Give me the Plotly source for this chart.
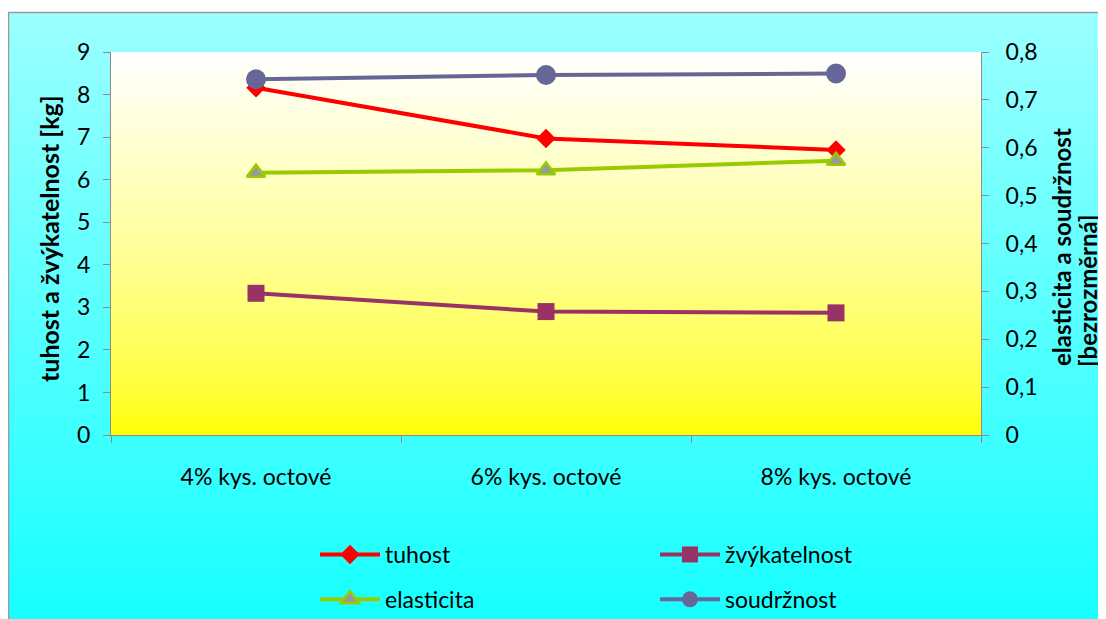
import base64, struct, zlib
import plotly.graph_objects as go

categories = ["4% kys. octové", "6% kys. octové", "8% kys. octové"]
tuhost = [8.16, 6.97, 6.70]
zvykatelnost = [3.33, 2.90, 2.87]
elasticita = [0.548, 0.553, 0.573]
soudrznost = [0.743, 0.752, 0.755]

OFF = 8  # page body margin
W, H = 1098, 611
L, T = 111 - OFF, 52 - OFF
PW, PH = 870, 383
R, B = W - L - PW, H - T - PH


def px2x(px):  # page pixel -> paper
    return (px - OFF - L) / PW


def px2y(py):
    return (T + PH - (py - OFF)) / PH


def png_uri(rows):
    raw = b"".join(b"\x00" + bytes(c) + bytes(c) for c in rows)

    def chunk(tag, data):
        return struct.pack(">I", len(data)) + tag + data + struct.pack(">I", zlib.crc32(tag + data) & 0xffffffff)

    png = b"\x89PNG\r\n\x1a\n" + chunk(b"IHDR", struct.pack(">IIBBBBB", 2, len(rows), 8, 2, 0, 0, 0)) \
        + chunk(b"IDAT", zlib.compress(raw)) + chunk(b"IEND", b"")
    return "data:image/png;base64," + base64.b64encode(png).decode()


n = 200
outer = [(int(round(155 - 135 * i / (n - 1))), 255, 255) for i in range(n)]
inner = [(255, 255, int(round(255 * (1 - i / (n - 1)) ** 0.7))) for i in range(n)]

fig = go.Figure()
fig.add_trace(go.Scatter(x=categories, y=tuhost, name="tuhost", mode="lines+markers",
                         line=dict(color="#FF0000", width=4),
                         marker=dict(symbol="diamond", size=15, color="#FF0000"),
                         legend="legend", legendgroup="a"))
fig.add_trace(go.Scatter(x=categories, y=zvykatelnost, name="žvýkatelnost", mode="lines+markers",
                         line=dict(color="#993366", width=4),
                         marker=dict(symbol="square", size=17, color="#993366"),
                         legend="legend2", legendgroup="b"))
fig.add_trace(go.Scatter(x=categories, y=elasticita, name="elasticita", mode="lines+markers",
                         line=dict(color="#99CC00", width=4),
                         marker=dict(symbol="triangle-up", size=16, color="#999999",
                                     line=dict(color="#99CC00", width=2.5)),
                         yaxis="y2", legend="legend", legendgroup="c"))
fig.add_trace(go.Scatter(x=categories, y=soudrznost, name="soudržnost", mode="lines+markers",
                         line=dict(color="#666699", width=4),
                         marker=dict(symbol="circle", size=20, color="#666699"),
                         yaxis="y2", legend="legend2", legendgroup="d"))

font = "Lato, 'Noto Sans', sans-serif"
axis_common = dict(showgrid=False, zeroline=False, showline=True, linecolor="#8c8c8c", linewidth=1,
                   ticks="outside", tickcolor="#8c8c8c", ticklen=7,
                   tickfont=dict(family=font, size=23, color="#000"))

legend_common = dict(orientation="v", xanchor="left", yanchor="top", bgcolor="rgba(0,0,0,0)",
                     font=dict(family=font, size=23, color="#000"), itemwidth=60,
                     tracegroupgap=12, traceorder="grouped")

fig.update_layout(
    width=W, height=H,
    margin=dict(l=L, r=R, t=T, b=B, autoexpand=False),
    paper_bgcolor="white", plot_bgcolor="rgba(0,0,0,0)",
    separators=", ",
    xaxis=dict(**axis_common, type="category", range=[-0.5, 2.5], tickson="boundaries",
               ticklabelstandoff=21),
    yaxis=dict(**axis_common, range=[0, 9], dtick=1, ticklabelstandoff=8),
    yaxis2=dict(**axis_common, range=[0, 0.8], dtick=0.1, overlaying="y", side="right",
                ticklabelstandoff=12),
    legend=dict(**legend_common, x=px2x(315), y=px2y(533)),
    legend2=dict(**legend_common, x=px2x(655), y=px2y(533)),
    images=[
        dict(source=png_uri(outer), xref="paper", yref="paper", x=px2x(8), y=px2y(12),
             sizex=(W + OFF) / PW, sizey=(H + OFF) / PH, sizing="stretch",
             xanchor="left", yanchor="top", layer="below"),
        dict(source=png_uri(inner), xref="paper", yref="paper", x=0, y=1,
             sizex=1, sizey=1, sizing="stretch", xanchor="left", yanchor="top", layer="below"),
    ],
    shapes=[
        dict(type="line", xref="paper", yref="paper", x0=px2x(8.5), x1=px2x(8.5), y0=px2y(12), y1=px2y(H + 20),
             line=dict(color="#9a9a9a", width=1.5)),
        dict(type="line", xref="paper", yref="paper", x0=px2x(8), x1=px2x(W + 20), y0=px2y(12.5), y1=px2y(12.5),
             line=dict(color="#9a9a9a", width=1.5)),
    ],
    annotations=[
        dict(text="<b>tuhost a žvýkatelnost [kg]</b>", xref="paper", yref="paper",
             x=px2x(49), y=px2y(239), xanchor="center", yanchor="middle", textangle=-90, showarrow=False,
             font=dict(family=font, size=25, color="#000")),
        dict(text="<b>elasticita a soudržnost</b>", xref="paper", yref="paper",
             x=px2x(1061), y=px2y(247), xanchor="center", yanchor="middle", textangle=-90, showarrow=False,
             font=dict(family=font, size=24, color="#000")),
        dict(text="<b>[bezrozměrná]</b>", xref="paper", yref="paper",
             x=px2x(1087), y=px2y(291), xanchor="center", yanchor="middle", textangle=-90, showarrow=False,
             font=dict(family=font, size=24, color="#000")),
    ],
    showlegend=True,
)

fig.write_html("out.html")
